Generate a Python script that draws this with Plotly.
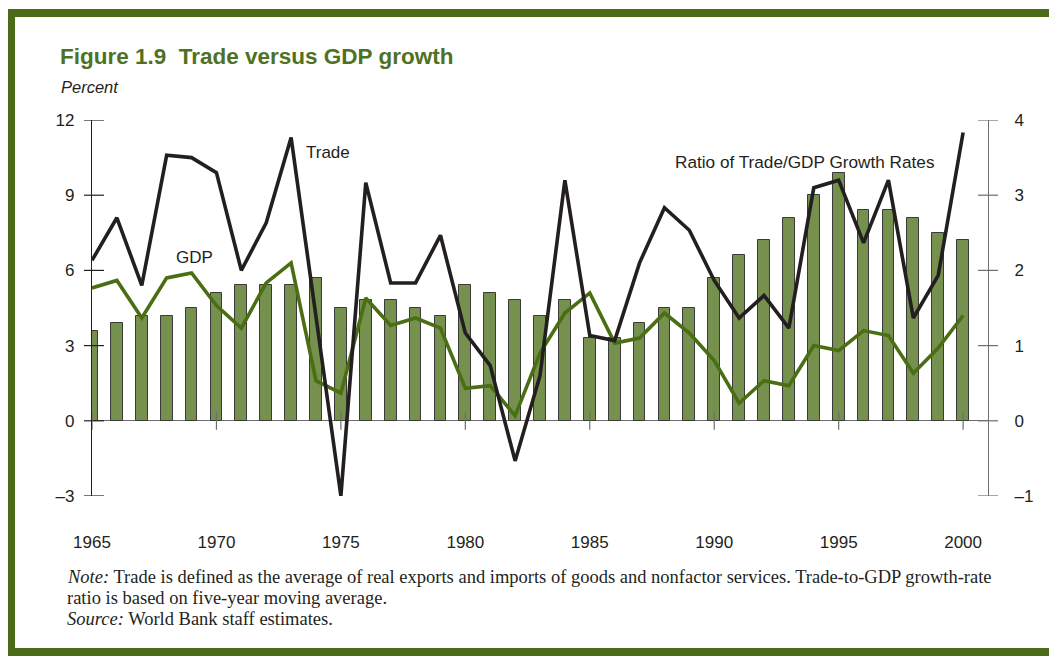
import plotly.graph_objects as go

years = list(range(1965, 2001))

# Ratio of Trade/GDP growth rates (right axis, bars)
ratio = [1.2, 1.3, 1.4, 1.4, 1.5, 1.7, 1.8, 1.8, 1.8, 1.9,
         1.5, 1.6, 1.6, 1.5, 1.4, 1.8, 1.7, 1.6, 1.4, 1.6,
         1.1, 1.1, 1.3, 1.5, 1.5, 1.9, 2.2, 2.4, 2.7, 3.0,
         3.3, 2.8, 2.8, 2.7, 2.5, 2.4]

# Trade growth (percent, left axis)
trade = [6.4, 8.1, 5.4, 10.6, 10.5, 9.9, 6.0, 7.9, 11.3, 4.1,
         -3.0, 9.5, 5.5, 5.5, 7.4, 3.5, 2.2, -1.6, 1.8, 9.6,
         3.4, 3.2, 6.3, 8.5, 7.6, 5.6, 4.1, 5.0, 3.7, 9.3,
         9.6, 7.1, 9.6, 4.1, 5.8, 11.5]

# GDP growth (percent, left axis)
gdp = [5.3, 5.6, 4.1, 5.7, 5.9, 4.6, 3.7, 5.5, 6.3, 1.6,
       1.1, 4.9, 3.8, 4.1, 3.7, 1.3, 1.4, 0.2, 2.7, 4.3,
       5.1, 3.1, 3.3, 4.3, 3.5, 2.4, 0.7, 1.6, 1.4, 3.0,
       2.8, 3.6, 3.4, 1.9, 2.9, 4.2]

left_ticks = [-3, 0, 3, 6, 9, 12]
left_text = ["\u20133", "0", "3", "6", "9", "12"]
right_ticks = [-1, 0, 1, 2, 3, 4]
right_text = ["\u20131", "0", "1", "2", "3", "4"]
x_ticks = [1965, 1970, 1975, 1980, 1985, 1990, 1995, 2000]

DARK = "#231F20"
GRAY = "#6d6d6d"
GREEN_LINE = "#4A6E14"
BAR_FILL = "#76904E"
FRAME = "#4B6B1A"
TITLE_GREEN = "#4F7123"
SANS = "Liberation Sans, Arial, sans-serif"
SERIF = "Liberation Serif, Times New Roman, serif"

fig = go.Figure()

fig.add_trace(go.Bar(
    x=years, y=ratio, xaxis="x", yaxis="y",
    width=0.47, marker=dict(color=BAR_FILL, line=dict(color="#3a3a3a", width=1)),
    showlegend=False, hoverinfo="skip"))

fig.add_trace(go.Scatter(
    x=years, y=gdp, xaxis="x", yaxis="y2", mode="lines",
    line=dict(color=GREEN_LINE, width=3.6), showlegend=False))

fig.add_trace(go.Scatter(
    x=years, y=trade, xaxis="x", yaxis="y2", mode="lines",
    line=dict(color=DARK, width=3.6), showlegend=False))

# page has an 8px body margin; figure is placed at (8, 8)
xr = [1965, 2001]
fig.update_layout(
    width=1049, height=648,
    margin=dict(l=84, r=69, t=112, b=160),
    paper_bgcolor="white", plot_bgcolor="white",
    font=dict(family=SANS, size=17, color=DARK),
    bargap=0,
    xaxis=dict(range=xr, tickvals=x_ticks, showgrid=False, zeroline=False,
               showline=False, ticks="", ticklabelstandoff=34,
               tickfont=dict(size=17, color=DARK)),
    yaxis=dict(range=[-1, 4], side="right", anchor="x", tickvals=right_ticks,
               ticktext=right_text, showgrid=False, zeroline=True,
               zerolinecolor=GRAY, zerolinewidth=1.2,
               showline=True, linecolor=GRAY, linewidth=1.2,
               ticks="", ticklabelstandoff=22, tickfont=dict(size=17, color=DARK)),
    yaxis2=dict(range=[-3, 12], side="left", overlaying="y", anchor="x",
                tickvals=left_ticks, ticktext=left_text, showgrid=False,
                zeroline=False, showline=True, linecolor=DARK, linewidth=1.2,
                ticks="", ticklabelstandoff=13, tickfont=dict(size=17, color=DARK)),
)

# Crossing tick marks (pixel-sized, anchored on the axes)
for v in left_ticks:
    fig.add_shape(type="line", xref="paper", yref="y2", xsizemode="pixel", xanchor=0,
                  x0=-8, x1=12, y0=v, y1=v, line=dict(color=DARK, width=1.2))
for v in right_ticks:
    fig.add_shape(type="line", xref="paper", yref="y", xsizemode="pixel", xanchor=1,
                  x0=-10, x1=10, y0=v, y1=v, line=dict(color=GRAY, width=1.2))
for v in x_ticks:
    fig.add_shape(type="line", xref="x", yref="y2", ysizemode="pixel", yanchor=0,
                  x0=v, x1=v, y0=-9, y1=9, line=dict(color=GRAY, width=1.2))

# Frame (left, top and bottom edges visible; right edge is off the page)
fig.add_shape(type="rect", xref="paper", yref="paper",
              x0=(11 - 92) / 896, x1=(1100 - 92) / 896,
              y0=(496 - 652) / 376, y1=(496 - 13) / 376,
              line=dict(color=FRAME, width=8), fillcolor="rgba(0,0,0,0)",
              layer="below")

annotations = [
    dict(text="<b>Figure 1.9  Trade versus GDP growth</b>", xref="paper", yref="paper",
         x=(58 - 92) / 896, y=(496 - 57) / 376, xanchor="left", yanchor="middle",
         showarrow=False, font=dict(family=SANS, size=22.5, color=TITLE_GREEN)),
    dict(text="<i>Percent</i>", xref="paper", yref="paper",
         x=(59 - 92) / 896, y=(496 - 87) / 376, xanchor="left", yanchor="middle",
         showarrow=False, font=dict(family=SANS, size=16.5, color=DARK)),
    dict(text="Trade", xref="x", yref="y2", x=1973.5, y=10.72,
         xanchor="left", yanchor="middle", showarrow=False,
         font=dict(family=SANS, size=17, color=DARK)),
    dict(text="GDP", xref="x", yref="y2", x=1968.3, y=6.5,
         xanchor="left", yanchor="middle", showarrow=False,
         font=dict(family=SANS, size=17, color=DARK)),
    dict(text="Ratio of Trade/GDP Growth Rates", xref="x", yref="y2", x=1988.35, y=10.33,
         xanchor="left", yanchor="middle", showarrow=False,
         font=dict(family=SANS, size=17.2, color=DARK)),
]
note_lines = [
    "<i>Note:</i> Trade is defined as the average of real exports and imports of goods and nonfactor services. Trade-to-GDP growth-rate",
    "ratio is based on five-year moving average.",
    "<i>Source:</i> World Bank staff estimates.",
]
for i, (line, ypx) in enumerate(zip(note_lines, [577, 598, 619])):
    annotations.append(dict(text=line, xref="paper", yref="paper",
                            x=(65 - 92) / 896, y=(496 - ypx) / 376,
                            xanchor="left", yanchor="middle", showarrow=False,
                            font=dict(family=SERIF, size=18.5, color=DARK)))
fig.update_layout(annotations=annotations)

fig.write_html("out.html")
